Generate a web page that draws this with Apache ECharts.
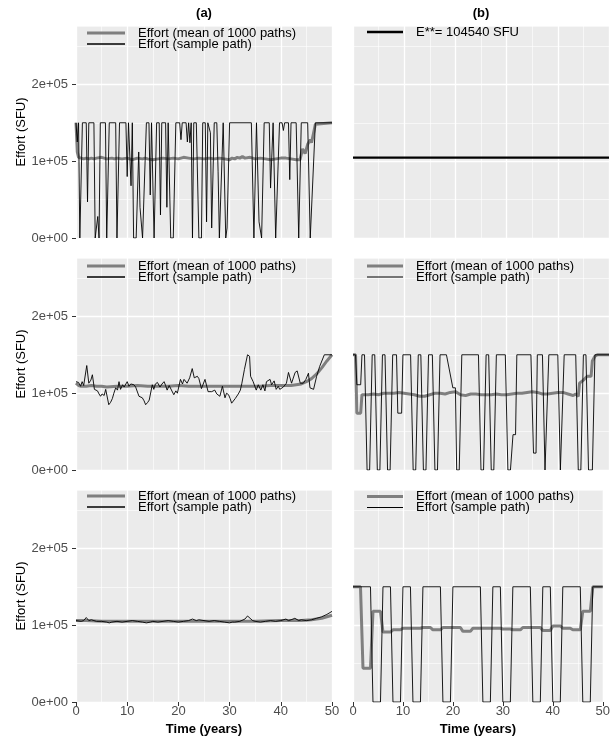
<!DOCTYPE html>
<html><head><meta charset="utf-8">
<script src="https://cdn.jsdelivr.net/npm/echarts@6/dist/echarts.min.js"></script>
<style>html,body{margin:0;padding:0;background:#fff}#c{width:613px;height:740px}</style>
</head><body><div id="c"></div>
<script>
const FONT = '"Liberation Sans", Arial, Helvetica, sans-serif';
const panelTitles = ['(a)', '(b)'];
const xTitle = 'Time (years)';
const yTitle = 'Effort (SFU)';
const yTicks = [0, 100000, 200000];
const yMax = 276000;
const UNIT = 1000; // series values below are in thousands of SFU
const nameMean = 'Effort (mean of 1000 paths)';
const nameSample = 'Effort (sample path)';
const nameEStar = 'E**= 104540 SFU';
const eStar = 104540;
const eStarYears = [0, 50];

// ---- row 1, column (a)
const meanA1 = [[0,150],[0.25,112],[0.5,105],[1,104],[1.5,103],[2,104],[2.5,103],[3,104],[3.5,103],[4,104],[5,105],[5.5,104],[6,103],[7,104],[7.5,103],[8,104],[9,103],[10,104],[10.5,103],[11,102],[12,104],[13,103],[13.5,104],[14,103],[15,102],[16,103],[17,104],[18,103],[19,104],[20,103],[20.5,104],[21,105],[22,104],[23,103],[24,104],[25,103],[26,104],[27,103],[28,104],[29,103],[30,102],[30.5,104],[31,103],[31.5,105],[32,104],[32.5,106],[33,104],[34,105],[35,103],[36,104],[37,103],[38,102],[39,103],[40,104],[41,104],[42,103],[43,102],[43.75,102],[44.25,116],[44.75,110],[45.25,122],[45.75,128],[46,124],[46.5,140],[46.75,148],[47,150],[50,150]];
const sampleA1 = [[0,150],[0.25,125],[0.5,150],[0.75,0],[1,0],[1.25,150],[2,150],[2.25,47],[2.5,150],[3.5,150],[3.75,0],[4,0],[4.25,28],[4.5,0],[4.75,150],[5.75,150],[6,0],[6.25,0],[6.5,150],[7.75,150],[8,0],[8.25,0],[8.5,150],[9.75,150],[10,80],[10.25,150],[10.5,150],[10.75,68],[11,150],[11.25,0],[11.75,0],[12.25,112],[12.5,40],[13,0],[13.25,0],[13.75,150],[14.25,150],[14.5,56],[14.75,150],[15,150],[15.25,0],[15.5,0],[15.75,150],[16.25,150],[16.5,30],[16.75,150],[17.5,150],[17.75,40],[18,150],[18.5,0],[19,0],[19.5,150],[20.25,150],[20.5,128],[20.75,150],[21.5,150],[21.75,125],[22,150],[22.25,124],[22.5,150],[22.75,0],[23,150],[23.5,150],[24,0],[24.5,0],[24.75,150],[25.25,150],[25.5,21],[25.75,150],[26.25,137],[26.5,13],[27,150],[27.5,150],[27.75,87],[28,0],[28.75,150],[29.25,0],[29.5,13],[30,150],[34.25,150],[34.75,0],[35.25,150],[35.75,21],[36.25,0],[36.75,150],[37.75,150],[38,65],[38.5,150],[39,0],[39.25,0],[39.75,150],[40.25,150],[40.5,140],[40.75,150],[41.5,150],[41.75,76],[42,150],[43,150],[43.5,0],[44,150],[45.25,150],[45.75,0],[46.75,150],[50,150]];

// ---- row 2
const meanA2 = [[0,113],[0.5,110],[1,109],[2,109],[3,110],[4,109],[5,109],[6,108],[8,109],[10,109],[12,110],[14,109],[16,109],[18,109],[20,110],[22,109],[24,109],[26,109],[28,109],[30,109],[32,109],[34,109],[36,109],[38,110],[40,110],[42,110],[43,111],[44,112],[45,115],[46,119],[47,125],[48,133],[49,142],[50,150]];
const sampleA2 = [[0,115],[0.25,113],[0.5,114],[0.9,109],[1.2,115],[1.5,110],[2.1,136],[2.5,113],[2.9,117],[3.2,124],[3.6,105],[4.2,103],[4.5,99],[4.8,96],[5.1,99],[5.5,97],[5.8,105],[6.4,85],[6.75,88],[7.1,93],[7.4,100],[7.75,107],[8.1,104],[8.4,115],[8.7,105],[9.1,111],[9.4,108],[10,115],[10.35,109],[10.7,112],[11,110],[11.3,111],[11.65,108],[12.3,96],[12.6,98],[12.95,94],[13.3,90],[13.6,85],[14,88],[14.3,91],[14.9,111],[15.2,105],[15.5,112],[15.9,114],[16.4,108],[16.8,112],[17.2,115],[17.5,110],[17.8,104],[18.2,110],[18.5,108],[19.1,98],[19.5,103],[19.8,100],[20.4,118],[20.8,112],[21.1,118],[21.4,116],[21.7,113],[22.2,120],[22.7,132],[23.1,120],[23.4,118],[23.7,122],[24,119],[24.2,120],[24.5,106],[25.2,118],[25.8,102],[26.5,102],[27.1,104],[27.5,99],[27.8,98],[28.1,96],[28.6,109],[29.1,94],[29.4,100],[29.8,98],[30.1,93],[30.4,87],[31.1,93],[31.7,99],[32.1,104],[32.4,113],[32.9,131],[33.5,150],[33.9,148],[34.1,122],[34.6,115],[35.2,104],[35.6,111],[36.1,104],[36.5,111],[36.9,103],[37.2,115],[37.9,118],[38.2,111],[38.7,116],[39.1,105],[39.5,109],[39.8,105],[40.5,108],[41.1,113],[41.5,127],[42.1,113],[42.8,127],[43.2,129],[43.8,113],[44.4,113],[44.9,118],[45.4,126],[45.7,107],[46.4,105],[47,122],[47.6,135],[48.5,150],[50,150]];
const meanB2 = [[0,150],[0.5,150],[0.75,74],[1.5,74],[1.75,98],[3,98],[4,99],[5,98],[6,100],[7,100],[8,100],[9,101],[10,100],[11,99],[12,98],[13,96],[14,96],[15,98],[16,100],[17,100],[18,99],[19,101],[20,102],[21,98],[22,97],[23,99],[24,99],[25,98],[26,98],[27,98],[28,99],[29,98],[30,98],[31,99],[32,100],[33,100],[34,101],[35,102],[36,101],[37,99],[38,99],[39,100],[40,101],[41,101],[42,99],[43,97],[43.5,99],[44,96],[44.25,113],[45,117],[45.75,122],[46.5,122],[46.75,142],[47.25,148],[47.75,150],[50,150]];
const sampleB2 = [[0,150],[0.5,150],[0.75,111],[1.5,111],[1.75,150],[2.25,150],[2.75,0],[3.25,0],[3.75,150],[4.25,150],[4.75,0],[5.25,0],[5.75,150],[6.25,150],[6.75,0],[7.25,0],[7.75,150],[8.5,150],[8.75,74],[9.5,74],[9.75,150],[11.25,150],[11.75,0],[12.25,0],[12.75,150],[13.25,150],[13.75,0],[14.25,0],[14.75,150],[15.5,150],[16,0],[16.5,0],[17,150],[18.25,150],[19.5,107],[20,107],[20.25,0],[20.75,0],[21.25,150],[24.5,150],[25,0],[25.5,0],[26,150],[26.5,150],[27,0],[27.5,0],[28,150],[29.75,150],[30.25,0],[30.75,0],[31.25,46],[31.75,46],[32,150],[34.75,150],[35.25,22],[35.75,22],[36,150],[37,150],[37.5,0],[37.75,0],[38.25,150],[40,150],[40.5,0],[40.75,0],[41.25,150],[43.5,150],[44,0],[44.5,0],[45,150],[45.5,150],[46,0],[46.75,0],[47.25,150],[50,150]];

// ---- row 3
const meanA3 = [[0,106],[2,106],[5,105],[10,105],[15,105],[20,105],[25,105],[30,105],[35,105],[40,106],[44,106],[46,107],[48,109],[50,113]];
const sampleA3 = [[0,106],[1,105],[1.5,106],[2,110],[2.5,106],[3,107],[3.5,106],[4,105],[5,105],[6,104],[6.5,103],[7,104],[8,105],[9,104],[10,105],[11,106],[12,105],[13,104],[13.75,103],[14.5,104],[15,105],[16,104],[17,105],[18,106],[19,105],[20,104],[21,105],[22,106],[22.75,108],[23.5,106],[24,107],[25,106],[26,105],[27,106],[28,105],[29,104],[30,103],[30.5,104],[31,104],[32,105],[33,108],[33.5,112],[34,109],[34.5,106],[35,105],[36,104],[37,105],[38,106],[39,105],[40,106],[41,108],[41.5,106],[42,107],[42.75,109],[43.5,106],[44,107],[45,106],[46,107],[47,109],[48,111],[49,114],[50,118]];
const meanB3 = [[0,150],[1.5,150],[2,44],[3.5,44],[4,118],[5.5,118],[6,91],[7.5,91],[8,94],[9.5,94],[10,96],[13.5,96],[14,97],[15.5,97],[16,94],[17.5,94],[18,97],[21.5,97],[22,92],[23.5,92],[24,96],[29.5,96],[30,95],[31.5,95],[32,94],[33.5,94],[34,97],[37.5,97],[38,93],[39.5,93],[40,99],[41.5,99],[42,96],[43.5,96],[44,94],[45.5,94],[46,118],[47.5,118],[48,150],[50,150]];
const sampleB3 = [[0,150],[3.5,150],[4,0],[5.5,0],[6,150],[7.5,150],[8,0],[9.5,0],[10,150],[11.5,150],[12,0],[13.5,0],[14,150],[17.5,150],[18,0],[19.5,0],[20,150],[25.5,150],[26,0],[27.5,0],[28,150],[29.5,150],[30,0],[31.5,0],[32,150],[35.5,150],[36,0],[37.5,0],[38,150],[39.5,150],[40,0],[41.5,0],[42,150],[45.5,150],[46,0],[47.5,0],[48,150],[50,150]];

// ---------------- layout ----------------
const colLeft = [76, 353];
const colWidth = 256;
const rowTop = [26, 258, 490];
const rowHeight = 212;

function sci(v) {
  if (v % 100000 !== 0) return '';
  if (v === 0) return '0e+00';
  const e = Math.floor(Math.log10(Math.abs(v)));
  const m = Math.round(v / Math.pow(10, e) * 100) / 100;
  return m + 'e' + (e >= 0 ? '+' : '-') + String(Math.abs(e)).padStart(2, '0');
}
const toSFU = arr => arr.map(p => [p[0], p[1] * UNIT]);

const grids = [], xAxes = [], yAxes = [], series = [], legends = [], titles = [];
for (let r = 0; r < 3; r++) {
  for (let c = 0; c < 2; c++) {
    const gi = r * 2 + c;
    const bottom = r === 2, left = c === 0;
    grids.push({left: colLeft[c], top: rowTop[r], width: colWidth, height: rowHeight,
      show: true, backgroundColor: '#EBEBEB', borderWidth: 0});
    xAxes.push({type: 'value', gridIndex: gi, min: 0, max: 50, interval: 10,
      axisLine: {show: false},
      axisTick: {show: bottom, length: 4, lineStyle: {color: '#333333', width: 1}},
      axisLabel: {show: bottom, color: '#4D4D4D', fontSize: 13, margin: 3, fontFamily: FONT},
      splitLine: {show: true, lineStyle: {color: '#FFFFFF', width: 1.3}},
      minorTick: {show: false, splitNumber: 2},
      minorSplitLine: {show: true, lineStyle: {color: '#FFFFFF', width: 0.6}},
      name: bottom ? xTitle : '', nameLocation: 'middle', nameGap: 21,
      nameTextStyle: {color: '#000', fontSize: 13, fontWeight: 'bold', fontFamily: FONT}});
    yAxes.push({type: 'value', gridIndex: gi, min: 0, max: yMax, interval: 100000,
      axisLine: {show: false},
      axisTick: {show: left, length: 4, lineStyle: {color: '#333333', width: 1}, customValues: yTicks},
      axisLabel: {show: left, customValues: yTicks, formatter: sci, color: '#4D4D4D', fontSize: 13, margin: 8, fontFamily: FONT},
      splitLine: {show: true, lineStyle: {color: '#FFFFFF', width: 1.3}},
      name: left ? yTitle : '', nameLocation: 'middle', nameGap: 48,
      nameTextStyle: {color: '#000', fontSize: 13, fontFamily: FONT}});
    yAxes.push({type: 'value', gridIndex: gi, min: 0, max: yMax, interval: 50000, position: 'left',
      axisLine: {show: false}, axisTick: {show: false}, axisLabel: {show: false},
      splitLine: {show: true, lineStyle: {color: '#FFFFFF', width: 0.6}}, z: 0});
  }
}

const panelData = {
  0: [meanA1, sampleA1], 2: [meanA2, sampleA2], 3: [meanB2, sampleB2],
  4: [meanA3, sampleA3], 5: [meanB3, sampleB3]
};
Object.keys(panelData).forEach(k => {
  const gi = +k;
  const [m, s] = panelData[k];
  series.push({type: 'line', name: nameMean, xAxisIndex: gi, yAxisIndex: gi * 2, data: toSFU(m),
    symbol: 'none', silent: true, lineStyle: {color: '#7F7F7F', width: 3}, itemStyle: {color: '#7F7F7F'}, z: 3});
  series.push({type: 'line', name: nameSample, xAxisIndex: gi, yAxisIndex: gi * 2, data: toSFU(s),
    symbol: 'none', silent: true, lineStyle: {color: '#000000', width: 0.9}, itemStyle: {color: '#000000'}, z: 4});
});
series.push({type: 'line', name: nameEStar, xAxisIndex: 1, yAxisIndex: 2,
  data: eStarYears.map(t => [t, eStar]), symbol: 'none', silent: true,
  lineStyle: {color: '#000000', width: 2.2}, itemStyle: {color: '#000000'}, z: 4});

// legend keys drawn as flat bars (line keys)
const keyMean = {name: nameMean, icon: 'path://M0,0H38V3H0Z'};
const keySample = {name: nameSample, icon: 'path://M0,0H38V1.3H0Z'};
const keyEStar = {name: nameEStar, icon: 'path://M0,0H36V2.4H0Z'};
const legendText = {fontSize: 13, color: '#000', lineHeight: 11, fontFamily: FONT, padding: [0, 0, 0, 8]};
const legendPos = [
  {left: 87, top: 26.5, itemWidth: 38, data: [keyMean, keySample]},
  {left: 367, top: 25.5, itemWidth: 36, data: [keyEStar]},
  {left: 87, top: 259.5, itemWidth: 38, data: [keyMean, keySample]},
  {left: 367, top: 259.5, itemWidth: 36, data: [keyMean, keySample]},
  {left: 87, top: 489.5, itemWidth: 38, data: [keyMean, keySample]},
  {left: 367, top: 490, itemWidth: 36, data: [keyMean, keySample]}
];
legendPos.forEach(p => legends.push(Object.assign({orient: 'vertical', itemHeight: 11, itemGap: -2,
  padding: 0, selectedMode: false, symbolKeepAspect: true, itemStyle: {borderWidth: 0},
  textStyle: legendText}, p)));

panelTitles.forEach((t, c) => titles.push({text: t, left: colLeft[c] + colWidth / 2, top: 7,
  textAlign: 'center', padding: 0,
  textStyle: {fontSize: 13, fontWeight: 'bold', color: '#000', fontFamily: FONT}}));

const chart = echarts.init(document.getElementById('c'), null, {renderer: 'canvas'});
chart.setOption({
  animation: false, backgroundColor: '#FFFFFF', textStyle: {fontFamily: FONT},
  title: titles, grid: grids, xAxis: xAxes, yAxis: yAxes, legend: legends, series: series
});
</script></body></html>
